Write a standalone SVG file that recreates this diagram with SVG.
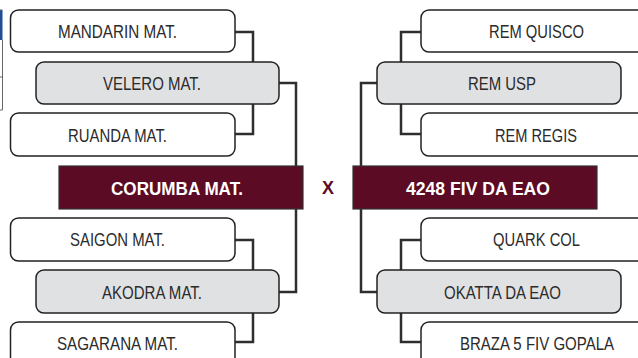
<svg xmlns="http://www.w3.org/2000/svg" width="638" height="358" viewBox="0 0 638 358">
<style>
.box{fill:#ffffff;stroke:#222222;stroke-width:1.5}
.win{fill:#e0e1e3;stroke:#222222;stroke-width:1.5}
.fin{fill:#5c0b24;stroke:#333333;stroke-width:1.2}
.t{font-family:"Liberation Sans",Arial,sans-serif;font-size:17.5px;fill:#2b2b2b}
.tb{font-family:"Liberation Sans",Arial,sans-serif;font-size:18.5px;font-weight:bold;fill:#ffffff}
.conn{fill:none;stroke:#2e2e2e;stroke-width:2.5}
</style>
<rect width="638" height="358" fill="#ffffff"/>
<g id="edge-fragment">
<rect x="0" y="10" width="2.5" height="30" fill="#1f4e96"/>
<path d="M2.5 40 V110 H0 M0 77 H2.5 M0 10 H2.5" fill="none" stroke="#666666" stroke-width="1"/>
</g>
<g id="connectors" class="conn">
<path d="M235 32 H253 V134 H235"/>
<path d="M279 83 H296 V166"/>
<path d="M296 209 V292 H279"/>
<path d="M235 240 H253 V342 H235"/>
<path d="M421 32 H401 V134 H421"/>
<path d="M377 83 H361 V166"/>
<path d="M361 209 V292 H377"/>
<path d="M421 240 H401 V342 H421"/>
</g>
<g id="mandarin"><rect class="box" x="10.5" y="10" width="224.5" height="42" rx="8"/><text class="t" x="58" y="38" textLength="119" lengthAdjust="spacingAndGlyphs">MANDARIN MAT.</text></g>
<g id="velero"><rect class="win" x="36" y="62" width="243" height="42" rx="8"/><text class="t" x="103" y="90" textLength="98" lengthAdjust="spacingAndGlyphs">VELERO MAT.</text></g>
<g id="ruanda"><rect class="box" x="10.5" y="113" width="224.5" height="43" rx="8"/><text class="t" x="68" y="141.5" textLength="99" lengthAdjust="spacingAndGlyphs">RUANDA MAT.</text></g>
<g id="corumba"><rect class="fin" x="59" y="166" width="244" height="43"/><text class="tb" x="111" y="194.5" textLength="132" lengthAdjust="spacingAndGlyphs">CORUMBA MAT.</text></g>
<g id="saigon"><rect class="box" x="10.5" y="218" width="224.5" height="43" rx="8"/><text class="t" x="70" y="246" textLength="95" lengthAdjust="spacingAndGlyphs">SAIGON MAT.</text></g>
<g id="akodra"><rect class="win" x="36" y="270" width="243" height="43" rx="8"/><text class="t" x="102" y="298.5" textLength="100" lengthAdjust="spacingAndGlyphs">AKODRA MAT.</text></g>
<g id="sagarana"><rect class="box" x="10.5" y="322" width="224.5" height="45" rx="8"/><text class="t" x="57" y="350" textLength="121" lengthAdjust="spacingAndGlyphs">SAGARANA MAT.</text></g>
<g id="versus"><text x="322" y="194" font-family="Liberation Sans, Arial, sans-serif" font-size="18" font-weight="bold" fill="#5c0b24" textLength="12" lengthAdjust="spacingAndGlyphs">X</text></g>
<g id="rem-quisco"><rect class="box" x="421" y="10" width="230" height="42" rx="8"/><text class="t" x="489" y="38" textLength="95" lengthAdjust="spacingAndGlyphs">REM QUISCO</text></g>
<g id="rem-usp"><rect class="win" x="377" y="62" width="244" height="42" rx="8"/><text class="t" x="468" y="90" textLength="68" lengthAdjust="spacingAndGlyphs">REM USP</text></g>
<g id="rem-regis"><rect class="box" x="421" y="113" width="230" height="43" rx="8"/><text class="t" x="495" y="141.5" textLength="82" lengthAdjust="spacingAndGlyphs">REM REGIS</text></g>
<g id="fiv-eao"><rect class="fin" x="353" y="166" width="244" height="43"/><text class="tb" x="406" y="194.5" textLength="144" lengthAdjust="spacingAndGlyphs">4248 FIV DA EAO</text></g>
<g id="quark"><rect class="box" x="421" y="218" width="230" height="43" rx="8"/><text class="t" x="493" y="246" textLength="87" lengthAdjust="spacingAndGlyphs">QUARK COL</text></g>
<g id="okatta"><rect class="win" x="377" y="270" width="244" height="43" rx="8"/><text class="t" x="444" y="298.5" textLength="117" lengthAdjust="spacingAndGlyphs">OKATTA DA EAO</text></g>
<g id="braza"><rect class="box" x="421" y="322" width="230" height="45" rx="8"/><text class="t" x="460" y="350" textLength="154" lengthAdjust="spacingAndGlyphs">BRAZA 5 FIV GOPALA</text></g>
</svg>
